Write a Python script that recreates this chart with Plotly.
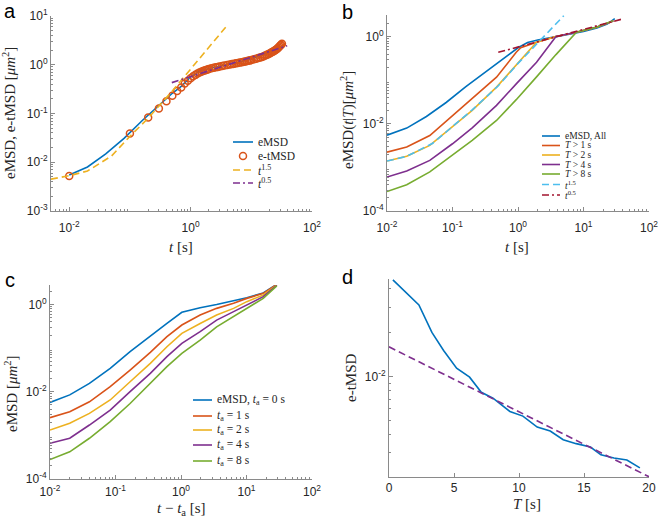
import plotly.graph_objects as go

# ---------------- data ----------------
# panel a / b : ensemble MSD (eMSD) and time-averaged points
emsd_t = [0.01, 0.02, 0.04, 0.08, 0.16, 0.3, 0.5, 0.7, 1.0, 1.4, 2.0, 3.5, 6, 10, 16, 23, 30]
emsd_v = [0.0055, 0.0080, 0.0148, 0.031, 0.072, 0.145, 0.26, 0.36, 0.56, 0.74, 0.84, 0.98, 1.12, 1.32, 1.6, 1.95, 2.6]

etmsd_t = [0.01, 0.1, 0.2, 0.3, 0.4, 0.5, 0.6, 0.7, 0.8, 0.9, 1.0,
           1.1, 1.2, 1.3, 1.4, 1.5, 1.6, 1.7, 1.8, 1.9, 2.0,
           2.2, 2.4, 2.6, 2.8, 3.0, 3.3, 3.6, 4.0, 4.4, 4.8, 5.2, 5.6, 6.0,
           6.5, 7.0, 7.5, 8.0, 8.5, 9.0, 9.5, 10,
           11, 12, 13, 14, 15, 16, 17, 18, 19, 20, 21, 22, 23, 24, 25, 26, 27, 28, 29, 30, 31, 32]
etmsd_v = [0.0052, 0.039, 0.083, 0.127, 0.179, 0.231, 0.288, 0.342, 0.413, 0.469, 0.53,
           0.58, 0.62, 0.66, 0.69, 0.72, 0.745, 0.765, 0.785, 0.80, 0.82,
           0.845, 0.865, 0.885, 0.90, 0.92, 0.94, 0.96, 0.99, 1.01, 1.03, 1.05, 1.07, 1.09,
           1.11, 1.13, 1.15, 1.17, 1.19, 1.21, 1.23, 1.25,
           1.29, 1.33, 1.37, 1.41, 1.45, 1.50, 1.55, 1.60, 1.65, 1.70, 1.76, 1.82, 1.88, 1.94,
           2.00, 2.07, 2.15, 2.25, 2.36, 2.47, 2.58, 2.70]

fit15a_t = [0.005, 0.01, 0.02, 0.05, 0.1, 0.2, 0.5, 1, 2, 4]
fit15a_v = [0.0045, 0.0053, 0.0066, 0.0135, 0.034, 0.080, 0.29, 0.80, 2.27, 6.4]
fit05a_t = [0.49, 39]
fit05a_v = [0.43, 2.45]

# panel b : eMSD conditioned on trajectory length T
b_t = [0.01, 0.02, 0.045, 0.1, 0.2, 0.47, 0.94, 1.92, 3.8, 7.8, 15.8, 28.5]
b_T1_t = [0.01, 0.02, 0.045, 0.1, 0.2, 0.47, 0.94, 1.1, 1.92, 3.8, 7.8, 15.8, 28.5]
b_T1 = [0.00225, 0.00294, 0.0054, 0.0156, 0.0377, 0.118, 0.44, 0.56, 0.75, 1.01, 1.27, 1.66, 2.3]
b_T2 = [0.0014, 0.0018, 0.0032, 0.0085, 0.0204, 0.070, 0.22, 0.75, 1.01, 1.27, 1.66, 2.3]
b_T4 = [0.0006, 0.00083, 0.00145, 0.0035, 0.0081, 0.0266, 0.083, 0.26, 1.01, 1.27, 1.66, 2.3]
b_T8 = [0.00028, 0.0004, 0.00079, 0.0019, 0.0042, 0.012, 0.036, 0.12, 0.39, 1.27, 1.66, 2.35]
fit15b_t = [0.01, 0.02, 0.05, 0.1, 0.2, 0.5, 1, 2, 5]
fit15b_v = [0.0014, 0.0018, 0.0036, 0.0085, 0.021, 0.075, 0.245, 0.72, 3.05]
fit05b_t = [0.5, 40]
fit05b_v = [0.44, 2.58]

# panel c : eMSD after ageing time t_a
c_t = [0.01, 0.02, 0.04, 0.083, 0.167, 0.34, 0.61, 1.03, 1.96, 3.5, 6.35, 10.1, 18, 29]
c_ta0 = [0.0057, 0.0085, 0.0156, 0.0345, 0.083, 0.194, 0.372, 0.665, 0.851, 1.01, 1.21, 1.44, 1.85, 2.92]
c_ta1 = [0.00255, 0.0035, 0.0059, 0.0131, 0.0316, 0.080, 0.184, 0.34, 0.577, 0.82, 1.07, 1.39, 1.81, 2.9]
c_ta2 = [0.00133, 0.0019, 0.0032, 0.0065, 0.017, 0.045, 0.108, 0.22, 0.37, 0.577, 0.82, 1.17, 1.66, 2.8]
c_ta4 = [0.00066, 0.00086, 0.00173, 0.0038, 0.0101, 0.0265, 0.064, 0.129, 0.24, 0.44, 0.69, 0.98, 1.52, 2.75]
c_ta8 = [0.00028, 0.00042, 0.00086, 0.00207, 0.0054, 0.0156, 0.0377, 0.076, 0.154, 0.31, 0.53, 0.82, 1.39, 2.7]

# panel d : e-tMSD vs T and exponential fit
d_T = [0.3, 1.3, 2.3, 3.3, 4.2, 5.2, 6.2, 7.1, 8.0, 9.3, 10.3, 11.4, 12.4, 13.4, 14.4, 15.5, 16.3, 17.3, 18.3, 19.3]
d_v = [0.0461, 0.0378, 0.0310, 0.0201, 0.0151, 0.0114, 0.0099, 0.0078, 0.0071, 0.00576, 0.00535,
       0.00450, 0.00422, 0.00368, 0.00346, 0.00328, 0.00290, 0.00276, 0.00267, 0.00236]
d_fit_T = [0, 20]
d_fit_v = [0.0160, 0.00205]

# tick labels
a_xticks = [0.01, 1, 100]
a_xlabels = ['10<sup>-2</sup>', '10<sup>0</sup>', '10<sup>2</sup>']
a_yticks = [0.001, 0.01, 0.1, 1, 10]
a_ylabels = ['10<sup>-3</sup>', '10<sup>-2</sup>', '10<sup>-1</sup>', '10<sup>0</sup>', '10<sup>1</sup>']
bc_xticks = [0.01, 0.1, 1, 10, 100]
bc_xlabels = ['10<sup>-2</sup>', '10<sup>-1</sup>', '10<sup>0</sup>', '10<sup>1</sup>', '10<sup>2</sup>']
bc_yticks = [0.0001, 0.01, 1]
bc_ylabels = ['10<sup>-4</sup>', '10<sup>-2</sup>', '10<sup>0</sup>']
d_xticks = [0, 5, 10, 15, 20]
d_xlabels = ['0', '5', '10', '15', '20']
d_yticks = [0.01]
d_ylabels = ['10<sup>-2</sup>']

# ---------------- styling ----------------
W, H = 660, 523
def px(x): return x / W
def py(y): return 1 - y / H

BLUE, ORANGE, YELLOW, PURPLE = '#0072BD', '#D95319', '#EDB120', '#7E2F8E'
GREEN, CYAN, DARKRED = '#77AC30', '#4DBEEE', '#A2142F'
DASH = '7px,4px'
DASHDOT = '7px,3px,2px,3px'
LW = 1.6
AXC = '#8a8a8a'
TXT = '#262626'
SERIF = 'Liberation Serif, DejaVu Serif, serif'
SANS = 'Liberation Sans, Arial, sans-serif'

fig = go.Figure()

def line(x, y, color, ax, dash='solid'):
    fig.add_trace(go.Scatter(x=x, y=y, mode='lines',
                             line=dict(color=color, dash=dash, width=LW),
                             xaxis='x' + ax, yaxis='y' + ax,
                             showlegend=False, hoverinfo='skip'))

# panel a
line(emsd_t, emsd_v, BLUE, '')
fig.add_trace(go.Scatter(x=etmsd_t, y=etmsd_v, mode='markers',
                         marker=dict(symbol='circle-open', size=7, color=ORANGE, line=dict(width=1.5, color=ORANGE)),
                         xaxis='x', yaxis='y', showlegend=False, hoverinfo='skip'))
line(fit15a_t, fit15a_v, YELLOW, '', DASH)
line(fit05a_t, fit05a_v, PURPLE, '', DASHDOT)

# panel b
line(emsd_t, emsd_v, BLUE, '2')
line(b_T1_t, b_T1, ORANGE, '2')
line(b_t, b_T2, YELLOW, '2')
line(b_t, b_T4, PURPLE, '2')
line(b_t, b_T8, GREEN, '2')
line(fit15b_t, fit15b_v, CYAN, '2', DASH)
line(fit05b_t, fit05b_v, DARKRED, '2', DASHDOT)

# panel c
line(c_t, c_ta0, BLUE, '3')
line(c_t, c_ta1, ORANGE, '3')
line(c_t, c_ta2, YELLOW, '3')
line(c_t, c_ta4, PURPLE, '3')
line(c_t, c_ta8, GREEN, '3')

# panel d
line(d_T, d_v, BLUE, '4')
line(d_fit_T, d_fit_v, PURPLE, '4', DASH)


def log_minor(e0, e1):
    return [m * 10.0 ** e for e in range(e0, e1) for m in range(2, 10)]


def axis(x0, x1, rng, typ, anchor, tickvals, ticktext, minor_vals=None, standoff=0):
    d = dict(domain=[x0, x1], range=rng, type=typ, tickmode='array',
             tickvals=tickvals, ticktext=ticktext,
             showline=True, linecolor=AXC, linewidth=1, ticks='inside', ticklen=4,
             tickcolor=AXC, showgrid=False, zeroline=False, anchor=anchor,
             automargin=False, fixedrange=True, ticklabelstandoff=standoff,
             tickfont=dict(family=SANS, size=12, color=TXT))
    if minor_vals is not None:
        d['minor'] = dict(tickmode='array', tickvals=minor_vals, ticks='inside',
                          ticklen=2, tickcolor=AXC, showgrid=False)
    return d

layout = dict(
    width=W, height=H, autosize=False,
    margin=dict(l=0, r=0, t=0, b=0, autoexpand=False),
    paper_bgcolor='white', plot_bgcolor='white', showlegend=False,
    xaxis=axis(px(51), px(312), [-2.3, 2], 'log', 'y', a_xticks, a_xlabels, log_minor(-3, 2), 6),
    yaxis=axis(py(211), py(16), [-3, 1], 'log', 'x', a_yticks, a_ylabels, log_minor(-3, 1)),
    xaxis2=axis(px(387), px(649), [-2, 2], 'log', 'y2', bc_xticks, bc_xlabels, log_minor(-2, 2), 6),
    yaxis2=axis(py(211), py(15), [-4, 0.5], 'log', 'x2', bc_yticks, bc_ylabels, log_minor(-4, 1)),
    xaxis3=axis(px(50), px(312), [-2, 2], 'log', 'y3', bc_xticks, bc_xlabels, log_minor(-2, 2), 2),
    yaxis3=axis(py(479), py(285), [-4, 0.45], 'log', 'x3', bc_yticks, bc_ylabels, log_minor(-4, 1)),
    xaxis4=axis(px(389), px(649), [0, 20], 'linear', 'y4', d_xticks, d_xlabels),
    yaxis4=axis(py(477), py(279), [-2.69, -1.33], 'log', 'x4', d_yticks, d_ylabels, log_minor(-3, -1)),
)
fig.update_layout(**layout)

ann = []
shapes = []

def text(x, y, s, size=15, family=SERIF, angle=0, xanchor='center', color=TXT):
    ann.append(dict(x=px(x), y=py(y), xref='paper', yref='paper', text=s, showarrow=False,
                    textangle=angle, xanchor=xanchor, yanchor='middle',
                    font=dict(family=family, size=size, color=color)))

MU = '[<i>μm</i><sup>2</sup>]'
# axis titles
text(181, 247, '<i>t</i> [s]')
text(9, 113, 'eMSD, e-tMSD ' + MU, angle=-90)
text(517, 247, '<i>t</i> [s]')
text(348, 120, 'eMSD(<i>t</i>|<i>T</i>)' + MU, angle=-90)
text(181, 509, '<i>t</i> − <i>t</i><sub>a</sub> [s]')
text(11, 394, 'eMSD ' + MU, angle=-90)
text(527, 504, '<i>T</i> [s]')
text(351, 378, 'e-tMSD', angle=-90)

# panel letters
text(10, 11, 'a', size=20, family=SANS, color='black')
text(347, 12, 'b', size=20, family=SANS, color='black')
text(10, 280, 'c', size=20, family=SANS, color='black')
text(348, 277, 'd', size=20, family=SANS, color='black')


def legend(entries, x0, rows, sample=20, size=11.5):
    for (label, color, dash, kind), y in zip(entries, rows):
        if kind == 'marker':
            cx, r = x0 + sample / 2, 3.5
            shapes.append(dict(type='circle', xref='paper', yref='paper',
                               x0=px(cx - r), x1=px(cx + r), y0=py(y + r), y1=py(y - r),
                               line=dict(color=color, width=1.5)))
        else:
            shapes.append(dict(type='line', xref='paper', yref='paper',
                               x0=px(x0), x1=px(x0 + sample), y0=py(y), y1=py(y),
                               line=dict(color=color, width=LW, dash=dash)))
        text(x0 + sample + 3, y, label, size=size, xanchor='left')

legend([('eMSD', BLUE, 'solid', 'line'),
        ('e-tMSD', ORANGE, None, 'marker'),
        ('<i>t</i><sup>1.5</sup>', YELLOW, DASH, 'line'),
        ('<i>t</i><sup>0.5</sup>', PURPLE, DASHDOT, 'line')],
       233, [142, 156, 170, 183])

legend([('eMSD, All', BLUE, 'solid', 'line'),
        ('<i>T</i> > 1 s', ORANGE, 'solid', 'line'),
        ('<i>T</i> > 2 s', YELLOW, 'solid', 'line'),
        ('<i>T</i> > 4 s', PURPLE, 'solid', 'line'),
        ('<i>T</i> > 8 s', GREEN, 'solid', 'line'),
        ('<i>t</i><sup>1.5</sup>', CYAN, DASH, 'line'),
        ('<i>t</i><sup>0.5</sup>', DARKRED, DASHDOT, 'line')],
       542, [136, 145.5, 155, 164.5, 174, 184.5, 195], sample=18, size=9.5)

legend([('eMSD, <i>t</i><sub>a</sub> = 0 s', BLUE, 'solid', 'line'),
        ('<i>t</i><sub>a</sub> = 1 s', ORANGE, 'solid', 'line'),
        ('<i>t</i><sub>a</sub> = 2 s', YELLOW, 'solid', 'line'),
        ('<i>t</i><sub>a</sub> = 4 s', PURPLE, 'solid', 'line'),
        ('<i>t</i><sub>a</sub> = 8 s', GREEN, 'solid', 'line')],
       193, [400, 416, 430, 445, 461], sample=19, size=11.5)

fig.update_layout(annotations=ann, shapes=shapes)
fig.write_html('out.html', config={'displayModeBar': False},
               post_script="document.body.style.margin='0px';")
